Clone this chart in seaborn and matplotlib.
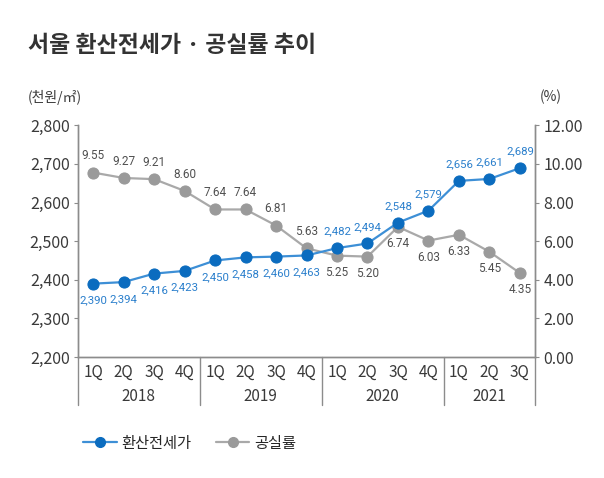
import matplotlib
matplotlib.use("Agg")
import matplotlib.pyplot as plt
import matplotlib.transforms as mtransforms
from matplotlib.lines import Line2D
import numpy as np
import pandas as pd
import seaborn as sns

# data
quarters = ["1Q", "2Q", "3Q", "4Q"] * 3 + ["1Q", "2Q", "3Q"]
years = ["2018", "2019", "2020", "2021"]
year_sizes = [4, 4, 4, 3]
jeonse = [2390, 2394, 2416, 2423, 2450, 2458, 2460, 2463, 2482, 2494, 2548, 2579, 2656, 2661, 2689]
vacancy = [9.55, 9.27, 9.21, 8.60, 7.64, 7.64, 6.81, 5.63, 5.25, 5.20, 6.74, 6.03, 6.33, 5.45, 4.35]
# label above (1) / below (-1)
jeonse_pos = [-1] * 8 + [1] * 7
vacancy_pos = [1] * 8 + [-1] * 7

blue_line = "#3d8fd6"
blue_dot = "#0b6cbf"
blue_txt = "#2a7fcc"
gray_line = "#a9a9a9"
gray_dot = "#9a9a9a"
gray_txt = "#505050"
axis_col = "#8c8c8c"
txt_col = "#3a3a3a"

sns.set_style("white")
plt.rcParams["font.family"] = ["Noto Sans CJK KR", "DejaVu Sans"]
num_font = ["Roboto", "DejaVu Sans"]

df = pd.DataFrame({"x": np.arange(len(jeonse)), "jeonse": jeonse, "vacancy": vacancy})

fig = plt.figure(figsize=(6.04, 4.78), dpi=100)
ax = fig.add_axes([0.129, 0.253, 0.757, 0.485])
ax2 = ax.twinx()

sns.lineplot(data=df, x="x", y="jeonse", ax=ax, color=blue_line, lw=1.6,
             marker="o", markersize=8, markerfacecolor=blue_dot, markeredgecolor=blue_dot, zorder=3)
sns.lineplot(data=df, x="x", y="vacancy", ax=ax2, color=gray_line, lw=1.6,
             marker="o", markersize=8, markerfacecolor=gray_dot, markeredgecolor=gray_dot, zorder=2)
ax.set_zorder(ax2.get_zorder() + 1)
ax.patch.set_visible(False)

ax.set_ylim(2200, 2800)
ax2.set_ylim(0, 12)
ax.set_xlim(-0.5, len(jeonse) - 0.5)
ax.set_yticks(np.arange(2200, 2801, 100))
ax.set_yticklabels([f"{v:,}" for v in range(2200, 2801, 100)], fontsize=11.5, color=txt_col)
ax2.set_yticks(np.arange(0, 12.1, 2))
ax2.set_yticklabels([f"{v:.2f}" for v in np.arange(0, 12.1, 2)], fontsize=11.5, color=txt_col)
ax.set_xticks(df["x"])
ax.set_xticklabels(quarters, fontsize=11, color=txt_col)
ax.tick_params(axis="x", length=0, pad=5)
ax.tick_params(axis="y", length=3, direction="out", color=axis_col, pad=3)
ax2.tick_params(axis="y", length=3, direction="out", color=axis_col, pad=3)
ax.set_xlabel("")
ax.set_ylabel("")
ax2.set_ylabel("")

for a in (ax, ax2):
    a.spines["top"].set_visible(False)
    for s in ("left", "right", "bottom"):
        a.spines[s].set_color(axis_col)
        a.spines[s].set_linewidth(1.0)
    a.grid(False)

# label values
for x, v, p in zip(df["x"], jeonse, jeonse_pos):
    ax.annotate(f"{v:,}", (x, v), xytext=(0, 12 * p), textcoords="offset points",
                ha="center", va="center", fontsize=8.2, color=blue_txt, family=num_font)
for x, v, p in zip(df["x"], vacancy, vacancy_pos):
    ax2.annotate(f"{v:.2f}", (x, v), xytext=(0, 12 * p), textcoords="offset points",
                 ha="center", va="center", fontsize=8.5, color=gray_txt, family=num_font)

# year groups below the axis
trans = mtransforms.blended_transform_factory(ax.transData, ax.transAxes)
start = 0
edges = [-0.5]
for yr, n in zip(years, year_sizes):
    ax.text(start + (n - 1) / 2, -0.17, yr, transform=trans, ha="center", va="center",
            fontsize=11, color=txt_col)
    start += n
    edges.append(start - 0.5)
for e in edges:
    ax.plot([e, e], [0, -0.205], transform=trans, color=axis_col, lw=1.0, clip_on=False)

# titles
fig.text(0.046, 0.905, "서울 환산전세가 · 공실률 추이", fontsize=16.5, fontweight="bold", color="#333333",
         va="center")
fig.text(0.046, 0.797, "(천원/㎡)", fontsize=10, color=txt_col, va="center")
fig.text(0.893, 0.797, "(%)", fontsize=10, color=txt_col, va="center")

# legend
handles = [
    Line2D([], [], color=blue_line, lw=1.6, marker="o", markersize=7,
           markerfacecolor=blue_dot, markeredgecolor=blue_dot),
    Line2D([], [], color=gray_line, lw=1.6, marker="o", markersize=7,
           markerfacecolor=gray_dot, markeredgecolor=gray_dot),
]
fig.legend(handles, ["환산전세가", "공실률"], loc="center left", bbox_to_anchor=(0.115, 0.073),
           ncol=2, frameon=False, fontsize=11, handlelength=2.2, handletextpad=0.3,
           columnspacing=1.6)

fig.savefig("out.png", dpi=100)
